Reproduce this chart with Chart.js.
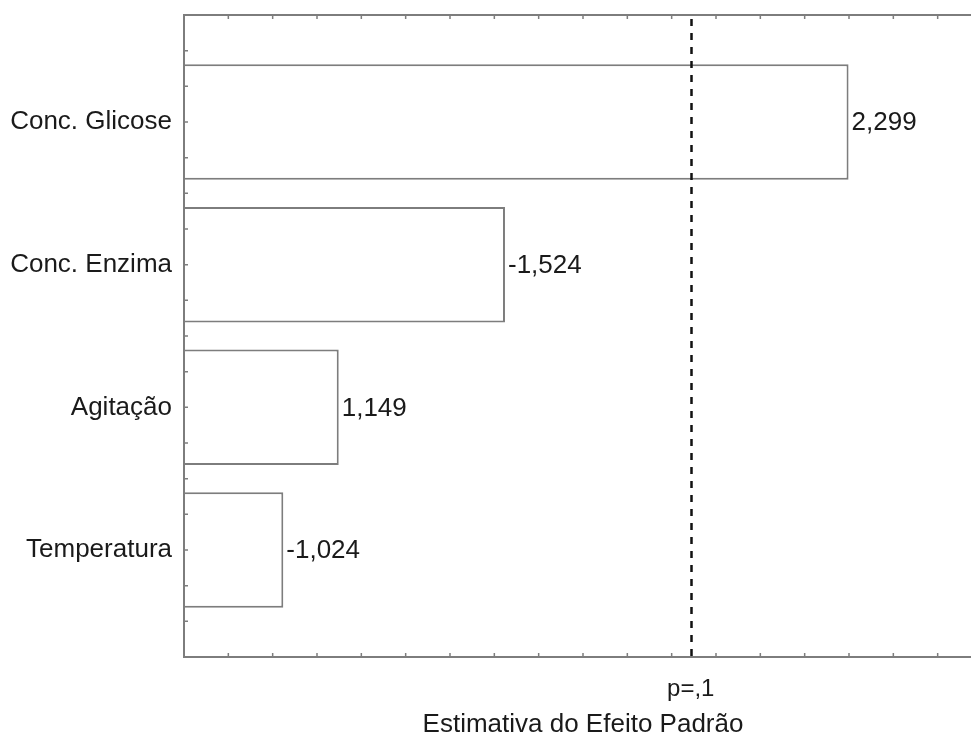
<!DOCTYPE html>
<html>
<head>
<meta charset="utf-8">
<title>Estimativa do Efeito Padrão</title>
<script src="https://cdn.jsdelivr.net/npm/chart.js@4"></script>
<style>
  html, body { margin: 0; padding: 0; background: #fff; overflow: hidden; }
  #wrap { width: 990px; height: 738px; }
</style>
</head>
<body>
<div id="wrap"><canvas id="pareto"></canvas></div>
<script>
// Pareto chart of standardized effects
const factors = ['Conc. Glicose', 'Conc. Enzima', 'Agitação', 'Temperatura'];
const effects = [2.299, -1.524, 1.149, -1.024];
const pCrit = 1.943;          // critical t at p = 0.1
const pLabel = 'p=,1';
const xTitle = 'Estimativa do Efeito Padrão';

const FONT = "'Liberation Sans', Arial, sans-serif";
const TEXT = '#1a1a1a';
const FRAME = '#7d7d7d';

const fmt = v => v.toFixed(3).replace('.', ',');

// frame, inward ticks, p-line and value labels
const paretoDecor = {
  id: 'paretoDecor',
  afterDatasetsDraw(chart) {
    const { ctx, chartArea: a, scales: { x, y } } = chart;
    ctx.save();

    // value labels next to bar ends
    ctx.font = '26px ' + FONT;
    ctx.fillStyle = TEXT;
    ctx.textAlign = 'left';
    ctx.textBaseline = 'middle';
    chart.getDatasetMeta(0).data.forEach((bar, i) => {
      ctx.fillText(fmt(effects[i]), bar.x + 3, bar.y + 1);
    });

    // significance line
    const px = Math.round(x.getPixelForValue(pCrit)) + 0.5;
    ctx.strokeStyle = '#111';
    ctx.lineWidth = 2.5;
    ctx.setLineDash([7, 7]);
    ctx.beginPath();
    ctx.moveTo(px, a.top + 4);
    ctx.lineTo(px, a.bottom);
    ctx.stroke();
    ctx.setLineDash([]);

    // inward tick marks
    ctx.strokeStyle = FRAME;
    ctx.lineWidth = 1.5;
    ctx.beginPath();
    for (let v = x.min; v <= x.max + 1e-9; v += 0.1) {
      const p = x.getPixelForValue(v);
      ctx.moveTo(p, a.top); ctx.lineTo(p, a.top + 4);
      ctx.moveTo(p, a.bottom); ctx.lineTo(p, a.bottom - 4);
    }
    for (let v = y.min; v <= y.max + 1e-9; v += 0.25) {
      const p = y.getPixelForValue(v);
      ctx.moveTo(a.left, p); ctx.lineTo(a.left + 4, p);
      ctx.moveTo(a.right, p); ctx.lineTo(a.right - 4, p);
    }
    ctx.stroke();

    // frame
    ctx.lineWidth = 2;
    ctx.strokeRect(a.left, a.top, a.right - a.left, a.bottom - a.top);
    ctx.restore();
  }
};

new Chart(document.getElementById('pareto'), {
  type: 'bar',
  data: {
    datasets: [{
      data: effects.map((v, i) => ({ x: Math.abs(v), y: i + 1 })),
      backgroundColor: '#ffffff',
      borderColor: FRAME,
      borderWidth: 2,
      borderSkipped: false,
      barPercentage: 0.81,
      categoryPercentage: 1
    }]
  },
  options: {
    indexAxis: 'y',
    responsive: true,
    maintainAspectRatio: false,
    animation: false,
    devicePixelRatio: 1,
    layout: { padding: { top: 15, right: 8, left: 0, bottom: 0 } },
    plugins: { legend: { display: false }, tooltip: { enabled: false } },
    scales: {
      x: {
        type: 'linear',
        min: 0.8,
        max: 2.6,
        grid: { display: false, drawTicks: false },
        border: { display: false },
        afterBuildTicks: s => { s.ticks = [{ value: pCrit }]; },
        afterFit: s => { s.height = 81; s.paddingLeft = 0; s.paddingRight = 0; },
        ticks: {
          autoSkip: false,
          maxRotation: 0,
          padding: 18,
          color: TEXT,
          font: { family: FONT, size: 24 },
          callback: () => pLabel
        },
        title: {
          display: true,
          text: xTitle,
          color: TEXT,
          font: { family: FONT, size: 26, lineHeight: 1 },
          padding: { top: 0, bottom: 0 }
        }
      },
      y: {
        type: 'linear',
        reverse: true,
        offset: false,
        min: 0.25,
        max: 4.75,
        grid: { display: false, drawTicks: false },
        border: { display: false },
        afterBuildTicks: s => { s.ticks = factors.map((f, i) => ({ value: i + 1 })); },
        afterFit: s => { s.width = 184; s.paddingTop = 0; s.paddingBottom = 0; },
        ticks: {
          autoSkip: false,
          padding: 12,
          color: TEXT,
          font: { family: FONT, size: 26 },
          callback: v => factors[v - 1]
        }
      }
    }
  },
  plugins: [paretoDecor]
});
</script>
</body>
</html>
